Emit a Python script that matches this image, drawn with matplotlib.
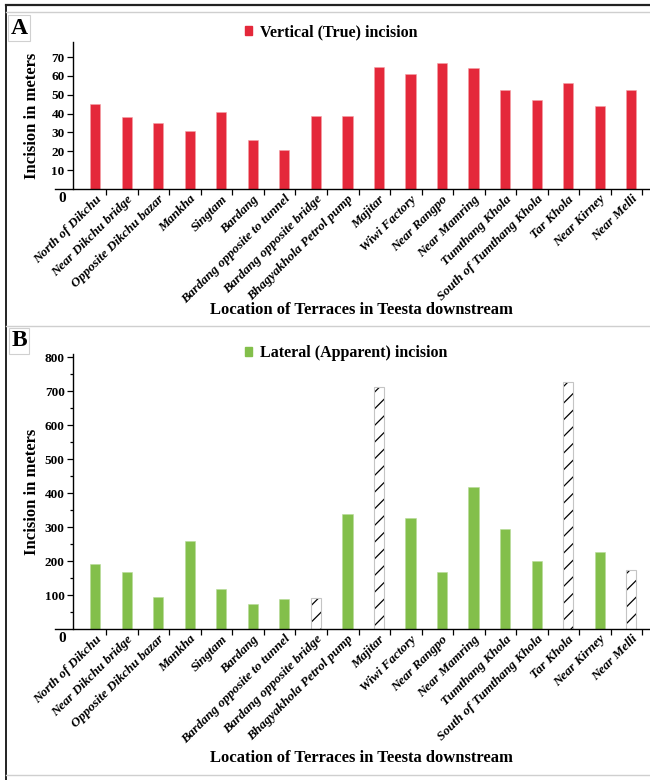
import matplotlib
matplotlib.use('Agg')
import matplotlib.pyplot as plt
import matplotlib.ticker as mtick
from matplotlib.lines import Line2D
from matplotlib.patches import Patch
import numpy as np

# Terrace incision along the lower Teesta: vertical (true) vs lateral (apparent)

locations = [
    'North of Dikchu', 'Near Dikchu bridge', 'Opposite Dikchu bazar', 'Mankha',
    'Singtam', 'Bardang', 'Bardang opposite to tunnel', 'Bardang opposite bridge',
    'Bhagyakhola Petrol pump', 'Majitar', 'Wiwi Factory', 'Near Rangpo',
    'Near Mamring', 'Tumthang Khola', 'South of Tumthang Khola', 'Tar Khola',
    'Near Kirney', 'Near Melli',
]
vertical = [45, 38, 35, 31, 41, 26, 20.5, 38.5, 38.5, 65, 61, 67, 64, 52.5, 47, 56.5, 44, 52.5]
lateral = [190, 168, 93, 258, 117, 75, 87, 90, 339, 712, 328, 168, 418, 296, 201, 728, 226, 174]
# terraces where the lateral value is shown as a hatched (open) bar
lateral_hatched = [False, False, False, False, False, False, False, True, False,
                   True, False, False, False, False, False, True, False, True]

RED = '#e4283a'
GREEN = '#83bf4b'
FONT = 'Liberation Serif'

plt.rcParams['font.family'] = FONT
plt.rcParams['font.weight'] = 'bold'
plt.rcParams['axes.labelweight'] = 'bold'
plt.rcParams['hatch.linewidth'] = 0.9

W, H = 650, 780
fig = plt.figure(figsize=(W / 100, H / 100), dpi=100)

x = np.arange(len(locations))
bar_w = 0.32


def px_box(left, top, right, bottom):
    return [left / W, 1 - bottom / H, (right - left) / W, (bottom - top) / H]


def style_axes(ax, ymax):
    ax.set_xlim(-0.71, 17.6)
    ax.set_ylim(0, ymax)
    for side in ('top', 'right', 'bottom'):
        ax.spines[side].set_visible(False)
    ax.spines['left'].set_linewidth(1.0)
    # x axis runs a little past the y axis on the left
    ax.add_line(Line2D([-0.031, 1.0], [0, 0], transform=ax.transAxes,
                       color='black', lw=1.0, clip_on=False))
    ax.set_xticks(x)
    ax.set_xticklabels(locations, rotation=45, ha='right', va='top',
                       rotation_mode='anchor', fontsize=9.5, style='italic',
                       fontweight='bold')
    ax.tick_params(axis='x', which='major', length=0, pad=3)
    ax.xaxis.set_minor_locator(mtick.FixedLocator(x + 0.35))
    ax.tick_params(axis='x', which='minor', length=4, width=0.9, direction='out')
    ax.tick_params(axis='y', which='major', length=4, width=0.9, direction='out',
                   labelsize=9.5, pad=2)
    ax.tick_params(axis='y', which='minor', length=2.5, width=0.9, direction='out')
    ax.annotate('0', xy=(0, 0), xycoords='axes fraction', xytext=(-5, -2),
                textcoords='offset points', ha='right', va='top', fontsize=11,
                fontweight='bold')
    ax.set_ylabel('Incision in meters', fontsize=12, fontweight='bold')
    ax.yaxis.set_label_coords(-0.058, 0.5)
    ax.set_xlabel('Location of Terraces in Teesta downstream', fontsize=12,
                  fontweight='bold')


# --- A: vertical incision
ax1 = fig.add_axes(px_box(73, 42, 650, 189))
ax1.bar(x, vertical, width=bar_w, color=RED, edgecolor='#f4a0a6', linewidth=0.4)
style_axes(ax1, 78)
ax1.yaxis.set_major_locator(mtick.FixedLocator(range(10, 80, 10)))
for lbl in ax1.get_yticklabels():
    lbl.set_fontweight('bold')
ax1.xaxis.set_label_coords(0.5, -0.77)
ax1.legend(handles=[Patch(color=RED)], labels=['Vertical (True) incision'],
           loc='center left', bbox_to_anchor=(245 / W, 1 - 32 / H),
           bbox_transform=fig.transFigure, frameon=False,
           prop={'weight': 'bold', 'size': 11.5},
           handlelength=0.45, handleheight=0.45, handletextpad=0.5,
           borderpad=0, borderaxespad=0)

# --- B: lateral incision
ax2 = fig.add_axes(px_box(73, 354, 650, 629))
for xi, val, hatched in zip(x, lateral, lateral_hatched):
    if hatched:
        ax2.bar(xi, val, width=bar_w, color='white', edgecolor='black',
                linewidth=0, hatch='//')
        ax2.bar(xi, val, width=bar_w, fill=False, edgecolor='#c4c4c4', linewidth=0.8)
    else:
        ax2.bar(xi, val, width=bar_w, color=GREEN, edgecolor='#b8dc98', linewidth=0.4)
style_axes(ax2, 810)
ax2.yaxis.set_major_locator(mtick.FixedLocator(range(100, 900, 100)))
ax2.yaxis.set_minor_locator(mtick.FixedLocator(range(50, 850, 100)))
for lbl in ax2.get_yticklabels():
    lbl.set_fontweight('bold')
ax2.xaxis.set_label_coords(0.5, -0.44)
ax2.legend(handles=[Patch(color=GREEN)], labels=['Lateral (Apparent) incision'],
           loc='center left', bbox_to_anchor=(245 / W, 1 - 353 / H),
           bbox_transform=fig.transFigure, frameon=False,
           prop={'weight': 'bold', 'size': 11.5},
           handlelength=0.45, handleheight=0.45, handletextpad=0.5,
           borderpad=0, borderaxespad=0)

# panel letters
for letter, cy in (('A', 28), ('B', 341)):
    fig.text(19 / W, 1 - cy / H, letter, ha='center', va='center', fontsize=17,
             fontweight='bold',
             bbox=dict(boxstyle='square,pad=0.1', fc='white', ec='#d0d0d0', lw=0.8))

# page frame: dark top and left rules, light separators
fig.add_artist(Line2D([6 / W, 1], [1 - 4.5 / H] * 2, color='#222222', lw=1.6))
fig.add_artist(Line2D([6 / W] * 2, [0, 1 - 4.5 / H], color='#222222', lw=1.4))
for yy in (12, 326, 775):
    fig.add_artist(Line2D([6 / W, 1], [1 - yy / H] * 2, color='#cfcfcf', lw=1.0))

plt.savefig('out.png', dpi=100)
